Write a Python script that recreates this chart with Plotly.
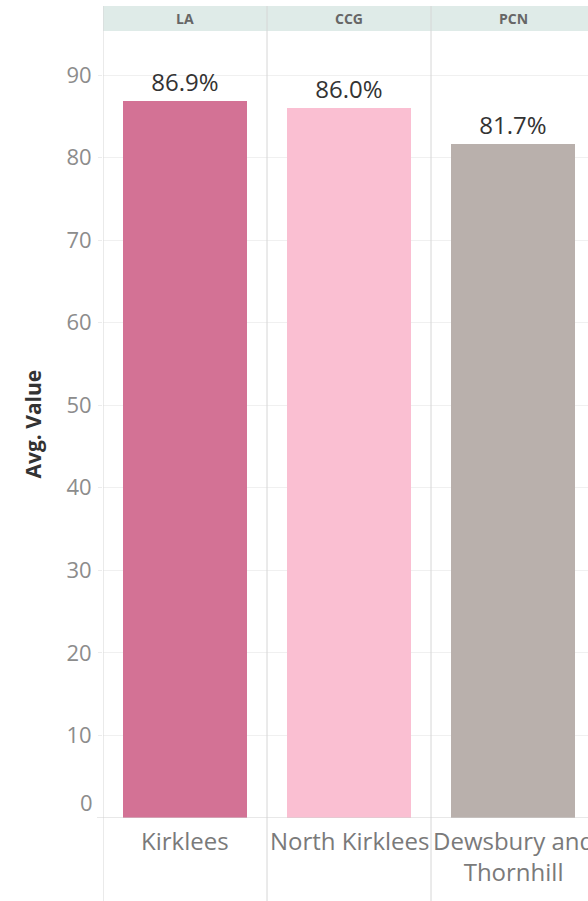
import textwrap
import plotly.graph_objects as go

# Facet levels, area names and average values
levels = ["LA", "CCG", "PCN"]
areas = ["Kirklees", "North Kirklees", "Dewsbury and Thornhill"]
avg_values = [86.9, 86.0, 81.7]
bar_colors = ["#d37295", "#fabfd2", "#b9b0ac"]
y_ticks = [10, 20, 30, 40, 50, 60, 70, 80, 90]

FONT = "Open Sans"
W, H = 588, 901
LEFT, TOP, BOTTOM = 103, 31, 83
PANEL_W = 164  # pixel width of one facet panel

positions = list(range(len(areas)))
plot_w = W - LEFT
plot_h = H - TOP - BOTTOM
x_range = [-0.5, -0.5 + plot_w / PANEL_W]

fig = go.Figure()
fig.add_trace(go.Bar(
    x=positions,
    y=avg_values,
    width=124 / PANEL_W,
    marker=dict(color=bar_colors, line=dict(width=0)),
    text=[f"{v:.1f}%" for v in avg_values],
    textposition="outside",
    textfont=dict(family=FONT, size=24, color="#333333"),
    cliponaxis=False,
    hoverinfo="skip",
))

fig.update_layout(
    width=W, height=H,
    margin=dict(l=LEFT, r=0, t=TOP, b=BOTTOM, pad=0),
    paper_bgcolor="white",
    plot_bgcolor="white",
    showlegend=False,
    bargap=0,
    font=dict(family=FONT),
    xaxis=dict(
        range=x_range,
        showticklabels=False,
        ticks="",
        showgrid=False,
        zeroline=False,
        showline=False,
        fixedrange=True,
    ),
    yaxis=dict(
        range=[0, 95.33],
        tickmode="array",
        tickvals=y_ticks,
        tickfont=dict(family=FONT, size=22, color="#8c8c8c"),
        ticks="outside",
        ticklen=4,
        tickcolor="#ececec",
        ticklabelstandoff=2,
        showgrid=True,
        gridcolor="#f0f0f0",
        gridwidth=1,
        zeroline=False,
        showline=False,
        fixedrange=True,
    ),
)

top_paper = 1 + 25 / plot_h
bottom_paper = -BOTTOM / plot_h

# Header band above the facets
fig.add_shape(type="rect", xref="paper", yref="paper",
              x0=0, x1=1, y0=1, y1=top_paper,
              fillcolor="#dfebe8", line=dict(width=0), layer="below")

# Facet separators and the baseline
for xb in [-0.5, 0.5, 1.5]:
    fig.add_shape(type="line", xref="x", yref="paper",
                  x0=xb, x1=xb, y0=bottom_paper, y1=top_paper,
                  line=dict(color="#d6d6d6", width=1), layer="above")
fig.add_shape(type="line", xref="paper", yref="y",
              x0=-6 / plot_w, x1=1, y0=0, y1=0,
              line=dict(color="#d0d0d0", width=1), layer="above")

# Facet headers
for pos, lvl in zip(positions, levels):
    fig.add_annotation(x=pos, y=1 + 12.5 / plot_h, xref="x", yref="paper",
                       text=f"<b>{lvl}</b>", showarrow=False,
                       font=dict(family=FONT, size=14, color="#666666"),
                       xanchor="center", yanchor="middle")

# Area names under each facet (wrapped like the category labels)
for pos, name in zip(positions, areas):
    fig.add_annotation(x=pos, y=0, xref="x", yref="paper",
                       text="<br>".join(textwrap.wrap(name, 14)),
                       showarrow=False, xanchor="center", yanchor="top",
                       yshift=-4, align="center",
                       font=dict(family=FONT, size=24, color="#7a7a7a"))

# Zero tick label sits just above the baseline
fig.add_annotation(x=0, y=0, xref="paper", yref="y", text="0",
                   showarrow=False, xanchor="right", yanchor="middle",
                   xshift=-8, yshift=16,
                   font=dict(family=FONT, size=22, color="#8c8c8c"))

# Axis title
fig.add_annotation(x=0, y=0.5, xref="paper", yref="paper",
                   text="<b>Avg. Value</b>", textangle=-90, showarrow=False,
                   xanchor="center", yanchor="middle", xshift=-71,
                   font=dict(family=FONT, size=21, color="#333333"))

fig.write_html("out.html")
